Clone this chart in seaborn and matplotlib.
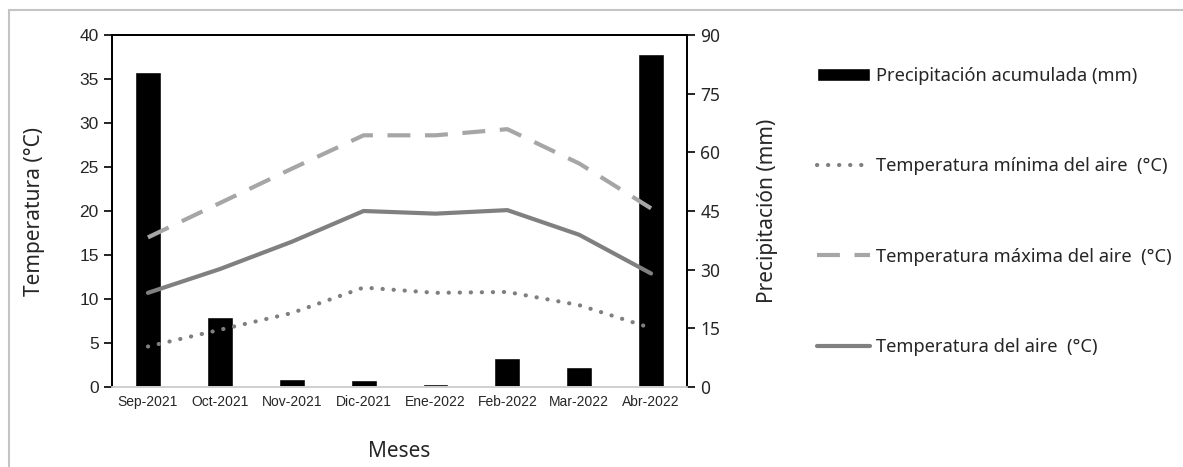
import numpy as np
import matplotlib
matplotlib.use("Agg")
import matplotlib.pyplot as plt
from matplotlib.patches import Rectangle
import seaborn as sns

# Datos mensuales
meses = ['Sep-2021', 'Oct-2021', 'Nov-2021', 'Dic-2021',
         'Ene-2022', 'Feb-2022', 'Mar-2022', 'Abr-2022']
precipitacion = [80.6, 17.8, 2.0, 1.8, 0.7, 7.5, 5.2, 85.1]
temp_min = [4.6, 6.5, 8.4, 11.3, 10.7, 10.8, 9.3, 6.7]
temp_max = [17.0, 20.9, 24.8, 28.6, 28.6, 29.3, 25.4, 20.3]
temp_media = [10.7, 13.4, 16.5, 20.0, 19.7, 20.1, 17.3, 12.9]

sns.set_style("ticks")
plt.rcParams['font.family'] = ['Noto Sans', 'DejaVu Sans']

fig = plt.figure(figsize=(11.83, 4.67), dpi=100)
ax = fig.add_axes([112 / 1183, 80 / 467, 575 / 1183, 352 / 467])
ax2 = ax.twinx()

# barras de precipitacion (eje derecho)
sns.barplot(x=meses, y=precipitacion, color='black', saturation=1,
            width=0.36, ax=ax2, label='Precipitación acumulada (mm)')

# lineas de temperatura (eje izquierdo), encima de las barras
pos = np.arange(len(meses))
sns.lineplot(x=pos, y=temp_min, color='#7f7f7f', linewidth=3.0,
             linestyle=(0, (0.05, 2.6)), dash_capstyle='round',
             ax=ax, label='Temperatura mínima del aire  (°C)')
sns.lineplot(x=pos, y=temp_max, color='#a6a6a6', linewidth=3.0,
             linestyle=(0, (5.5, 3.5)), ax=ax,
             label='Temperatura máxima del aire  (°C)')
sns.lineplot(x=pos, y=temp_media, color='#808080', linewidth=3.0,
             ax=ax, label='Temperatura del aire  (°C)')
ax.set_zorder(ax2.get_zorder() + 1)
ax.patch.set_visible(False)

ax.set_xlim(-0.5, len(meses) - 0.5)
ax.set_ylim(0, 40)
ax.set_yticks(range(0, 41, 5))
ax2.set_ylim(0, 90)
ax2.set_yticks(range(0, 91, 15))

ax.set_xticks(pos)
ax.set_xticklabels(meses, fontsize=10, family=['Liberation Sans'])
for t in ax.get_yticklabels():
    t.set_fontsize(12.5)
    t.set_family(['Liberation Sans'])
ax2.tick_params(axis='y', labelsize=12.5, length=6, width=1.2, color='black')
ax.tick_params(axis='y', length=6, width=1.2, color='black')
ax.tick_params(axis='x', length=0, pad=6)
ax2.tick_params(axis='x', length=0)

for a in (ax, ax2):
    for s in ('left', 'right', 'top'):
        a.spines[s].set_color('black')
        a.spines[s].set_linewidth(1.3)
    a.spines['bottom'].set_color('#d0d0d0')
    a.spines['bottom'].set_linewidth(1.3)

ax.set_ylabel('Temperatura (°C)', fontsize=15)
ax.yaxis.set_label_coords(-0.116, 0.5)
ax2.set_ylabel('Precipitación (mm)', fontsize=15)
ax2.yaxis.set_label_coords(1.121, 0.5)
ax.set_xlabel('Meses', fontsize=15)
ax.xaxis.set_label_coords(0.5, -0.152)
ax2.set_xlabel('')

# leyenda a la derecha
h2, l2 = ax2.get_legend_handles_labels()
h1, l1 = ax.get_legend_handles_labels()
ax.get_legend().remove()
if ax2.get_legend() is not None:
    ax2.get_legend().remove()
fig.legend(h2 + h1, l2 + l1, loc='upper left',
           bbox_to_anchor=(817 / 1183, 1 - 67 / 467), frameon=False,
           fontsize=13.2, handlelength=2.9, handletextpad=0.3,
           labelspacing=3.95, borderaxespad=0, borderpad=0)

# marco gris de la figura
fig.add_artist(Rectangle((9 / 1183, -0.2), 1.3, 1.2 - 10 / 467,
                         transform=fig.transFigure, fill=False,
                         edgecolor='#c4c4c4', linewidth=1.5))

plt.savefig('out.png', dpi=100)
